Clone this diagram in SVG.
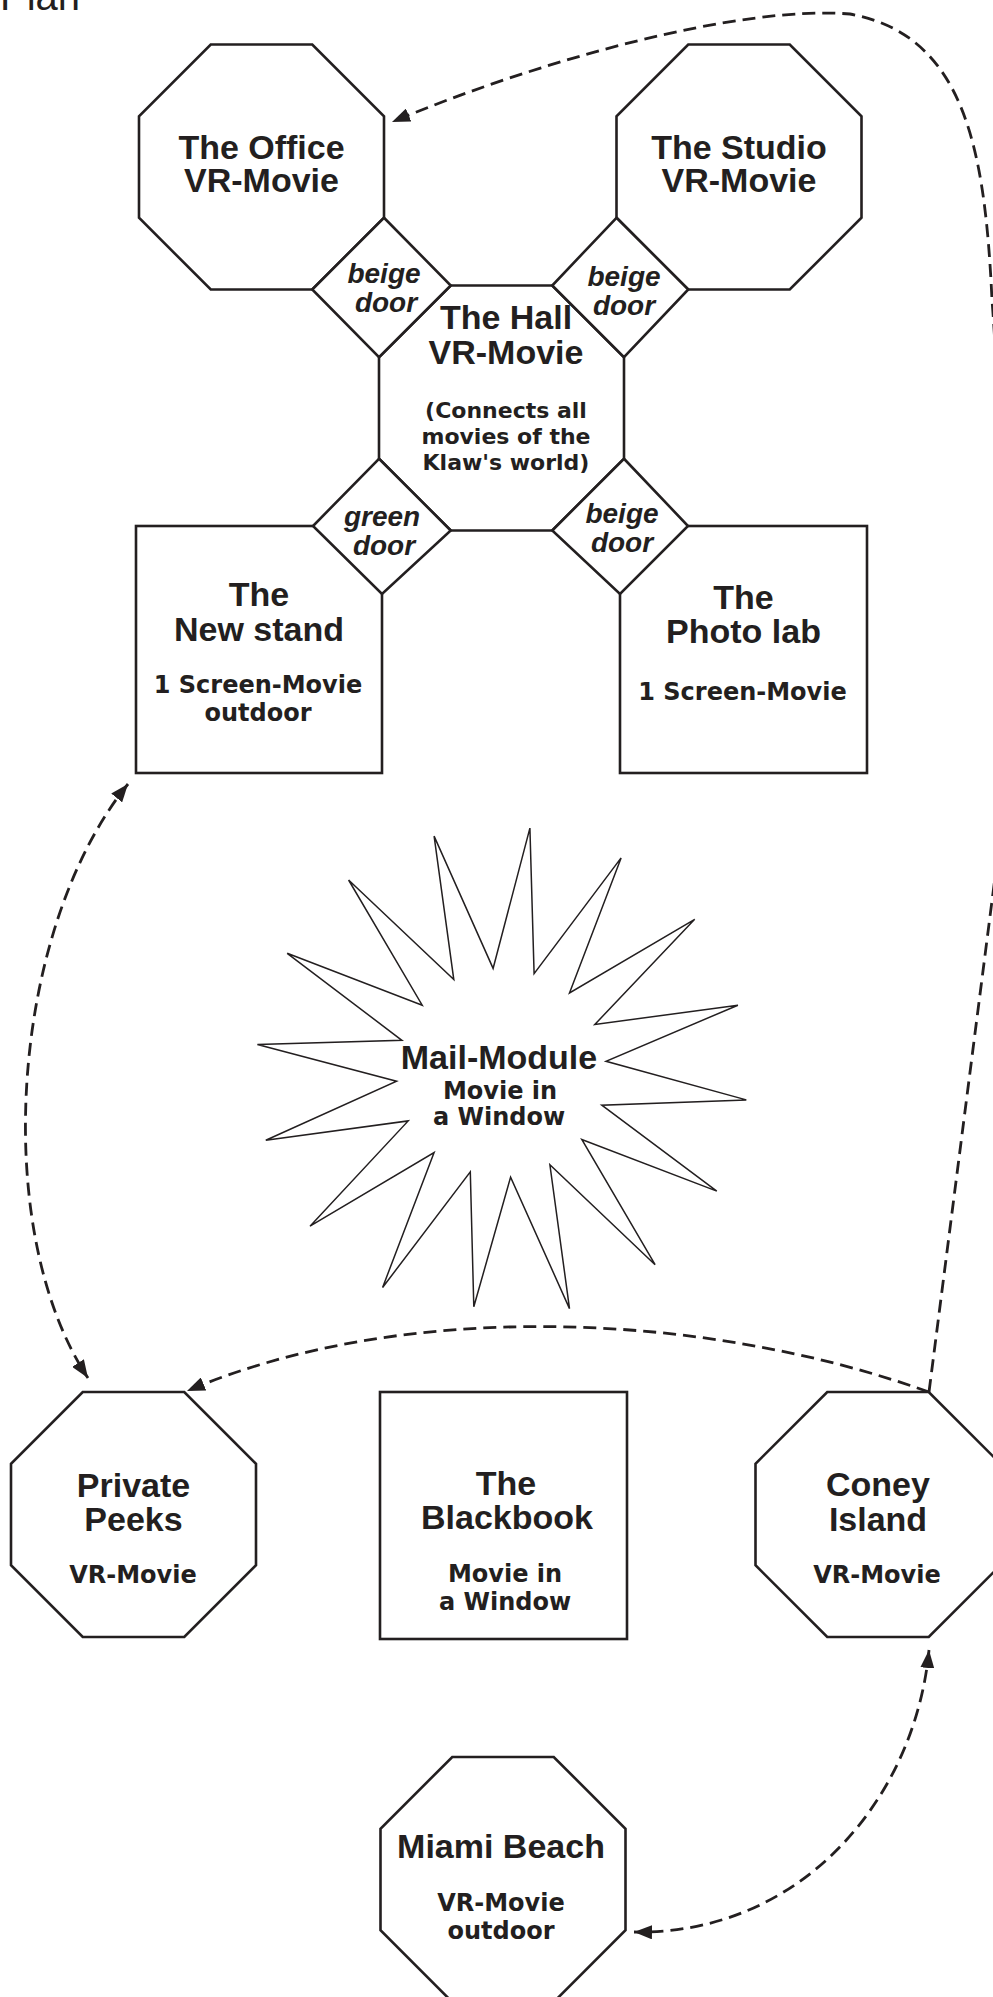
<svg xmlns="http://www.w3.org/2000/svg" width="993" height="1997" viewBox="0 0 993 1997">
<style>
.n{fill:#fff;stroke:#231f20;stroke-width:2.6;stroke-linejoin:miter}
.star{fill:#fff;stroke:#231f20;stroke-width:1.5;stroke-linejoin:miter}
.t{font-family:"Liberation Sans",Arial,sans-serif;font-weight:bold;font-size:34px;fill:#231f20;text-anchor:middle}
.s{font-family:"DejaVu Sans",Verdana,sans-serif;font-weight:bold;font-size:24px;fill:#231f20;text-anchor:middle}
.h{font-size:22px}
.d{font-family:"Liberation Sans",Arial,sans-serif;font-weight:bold;font-style:italic;font-size:28px;fill:#231f20;text-anchor:middle}
.c{fill:none;stroke:#231f20;stroke-width:2.8;stroke-dasharray:13 7}
</style>
<defs>
<marker id="ah" markerUnits="userSpaceOnUse" markerWidth="19" markerHeight="14" refX="18" refY="7" orient="auto-start-reverse">
<path d="M0,0 L18,7 L0,14 z" fill="#231f20"/>
</marker>
</defs>
<rect width="993" height="1997" fill="#fff"/>
<text x="0" y="10" font-family="Liberation Sans, Arial, sans-serif" font-size="40" fill="#231f20">Plan</text>

<g id="office">
<polygon class="n" points="210.75,44.5 312.25,44.5 384,116.25 384,217.75 312.25,289.5 210.75,289.5 139,217.75 139,116.25"/>
<text class="t" x="261.5" y="159">The Office</text>
<text class="t" x="261.5" y="192">VR-Movie</text>
</g>
<g id="studio">
<polygon class="n" points="688.25,44.5 789.75,44.5 861.5,116.25 861.5,217.75 789.75,289.5 688.25,289.5 616.5,217.75 616.5,116.25"/>
<text class="t" x="739" y="159">The Studio</text>
<text class="t" x="739" y="192">VR-Movie</text>
</g>
<g id="newstand">
<rect class="n" x="136" y="526" width="246" height="247"/>
<text class="t" x="259" y="606">The</text>
<text class="t" x="259" y="641">New stand</text>
<text class="s" x="258" y="693">1 Screen-Movie</text>
<text class="s" x="258" y="721">outdoor</text>
</g>
<g id="photolab">
<rect class="n" x="620" y="526" width="247" height="247"/>
<text class="t" x="743.5" y="609">The</text>
<text class="t" x="743.5" y="643">Photo lab</text>
<text class="s" x="742.5" y="700">1 Screen-Movie</text>
</g>
<g id="hall">
<polygon class="n" points="450.75,285.5 552.25,285.5 624,357.25 624,458.75 552.25,530.5 450.75,530.5 379,458.75 379,357.25"/>
</g>
<g id="door-office">
<polygon class="n" points="384,217.75 450.75,285.5 379,357.25 312.25,289.5"/>
<text class="d" x="384" y="283">beige</text>
<text class="d" x="386" y="312">door</text>
</g>
<g id="door-studio">
<polygon class="n" points="616.5,217.75 688.25,289.5 624,357.25 552.25,285.5"/>
<text class="d" x="624" y="286">beige</text>
<text class="d" x="624" y="315">door</text>
</g>
<g id="door-newstand">
<polygon class="n" points="379,458.75 450.75,530.5 382,594 313,526"/>
<text class="d" x="382" y="526">green</text>
<text class="d" x="384" y="555">door</text>
</g>
<g id="door-photolab">
<polygon class="n" points="624,458.75 688,526 620,594 552.25,530.5"/>
<text class="d" x="622" y="523">beige</text>
<text class="d" x="622" y="552">door</text>
</g>
<g id="hall-text">
<text class="t" x="506" y="329">The Hall</text>
<text class="t" x="506" y="364">VR-Movie</text>
<text class="s h" x="506" y="418">(Connects all</text>
<text class="s h" x="506" y="444">movies of the</text>
<text class="s h" x="506" y="470">Klaw's world)</text>
</g>
<g id="mailmodule">
<polygon class="star" points="529.9,828.1 534.1,973.6 621.1,857.9 569.5,992.9 694.7,919.3 594.8,1024.5 737.9,1005.2 606,1061.3 746.3,1099.9 601.8,1105.2 716.8,1191.1 581.8,1139.5 655.1,1264.7 549.9,1164.8 569.5,1308.6 510.6,1177.1 473.8,1306.8 470.3,1171.8 382.6,1287.5 434.1,1152.5 310,1226.2 408.2,1120.9 265.8,1140.2 396.6,1081.3 257.4,1044.5 401.9,1040.3 287.2,953.3 422.2,1005.2 348.6,880 453.8,979.6 434.1,836.1 493.1,968.4"/>
<text class="t" x="499" y="1069" font-size="36">Mail-Module</text>
<text class="s" x="500" y="1099">Movie in</text>
<text class="s" x="499" y="1124.5">a Window</text>
</g>
<g id="privatepeeks">
<polygon class="n" points="82.75,1392 184.25,1392 256,1463.75 256,1565.25 184.25,1637 82.75,1637 11,1565.25 11,1463.75"/>
<text class="t" x="133.5" y="1497">Private</text>
<text class="t" x="133.5" y="1531">Peeks</text>
<text class="s" x="133" y="1583">VR-Movie</text>
</g>
<g id="blackbook">
<rect class="n" x="380" y="1392" width="247" height="247"/>
<text class="t" x="506" y="1495">The</text>
<text class="t" x="507" y="1529">Blackbook</text>
<text class="s" x="505" y="1582">Movie in</text>
<text class="s" x="505" y="1610">a Window</text>
</g>
<g id="coneyisland">
<polygon class="n" points="827.25,1392 928.75,1392 1000.5,1463.75 1000.5,1565.25 928.75,1637 827.25,1637 755.5,1565.25 755.5,1463.75"/>
<text class="t" x="878" y="1496">Coney</text>
<text class="t" x="878" y="1531">Island</text>
<text class="s" x="877" y="1583">VR-Movie</text>
</g>
<g id="miamibeach">
<polygon class="n" points="452.25,1757 553.75,1757 625.5,1828.75 625.5,1930.25 553.75,2002 452.25,2002 380.5,1930.25 380.5,1828.75"/>
<text class="t" x="501" y="1858">Miami Beach</text>
<text class="s" x="501" y="1911">VR-Movie</text>
<text class="s" x="501" y="1939">outdoor</text>
</g>
<g id="connectors">
<path class="c" d="M929,1392 L1003,815 C1010,700 1000,400 992,300 C985,150 965,35 850,14 C740,5 540,60 392,122" marker-end="url(#ah)"/>
<path class="c" d="M929,1392 C700,1310 400,1300 187,1391" marker-end="url(#ah)"/>
<path class="c" d="M128,784 C10,930 -10,1230 88,1378" marker-start="url(#ah)" marker-end="url(#ah)"/>
<path class="c" d="M929,1650 C915,1800 800,1935 634,1932" marker-start="url(#ah)" marker-end="url(#ah)"/>
</g>
</svg>
